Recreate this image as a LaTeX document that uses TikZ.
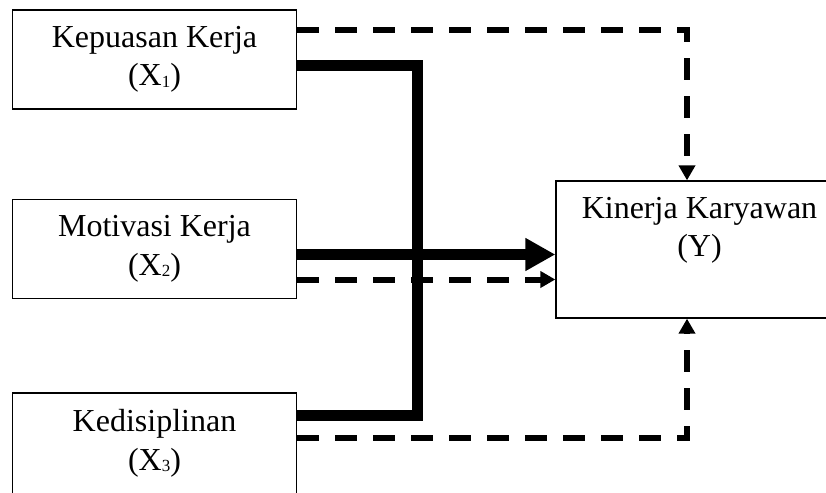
\documentclass[tikz,border=0pt]{standalone}
\usepackage{fontspec}
\setmainfont{Liberation Serif}
\usetikzlibrary{arrows.meta}
\newcommand{\lowidx}[1]{{\fontsize{17}{17}\selectfont\raisebox{-1.5pt}{#1}}}
\begin{document}
\begin{tikzpicture}[x=1pt, y=-1pt,
    box/.style = {draw, line width=1.3pt, align=center, minimum width=284pt, minimum height=99pt, font=\fontsize{32}{38.5}\selectfont},
    thickln/.style = {line width=11pt},
    dashln/.style = {line width=6pt, dash pattern=on 22pt off 16pt, -{Triangle[length=15pt, width=16pt]}}]
    \useasboundingbox (0,0) rectangle (826,492);
    \node[box] (x1) at (154.5,59.5) {Kepuasan Kerja\\(X\lowidx{1})};
    \node[box] (x2) at (154.5,249) {Motivasi Kerja\\(X\lowidx{2})};
    \node[box, minimum height=101pt] (x3) at (154.5,443.5) {Kedisiplinan\\(X\lowidx{3})};
    \node[box, minimum width=287pt, minimum height=137pt, text depth=45pt] (y) at (699.5,249.5) {Kinerja Karyawan\\(Y)};
    \coordinate (jtop) at (417.5,66);
    \coordinate (jbot) at (417.5,415);
    % dashed paths
    \draw[dashln] ([yshift=29.5pt]x1.east) -| ([xshift=-12.5pt]y.north);
    \draw[dashln] ([yshift=-30.5pt]x2.east) -- ([yshift=-30pt]y.west);
    \draw[dashln] ([yshift=5.5pt]x3.east) -| ([xshift=-12.5pt]y.south);
    % thick paths
    \draw[thickln] (x1.east |- jtop) -- (jtop) -- (jbot) -- (x3.east |- jbot);
    \draw[thickln, -{Triangle[length=30pt, width=31pt]}] ([yshift=-5.5pt]x2.east) -- ([yshift=-5pt]y.west);
\end{tikzpicture}
\end{document}
